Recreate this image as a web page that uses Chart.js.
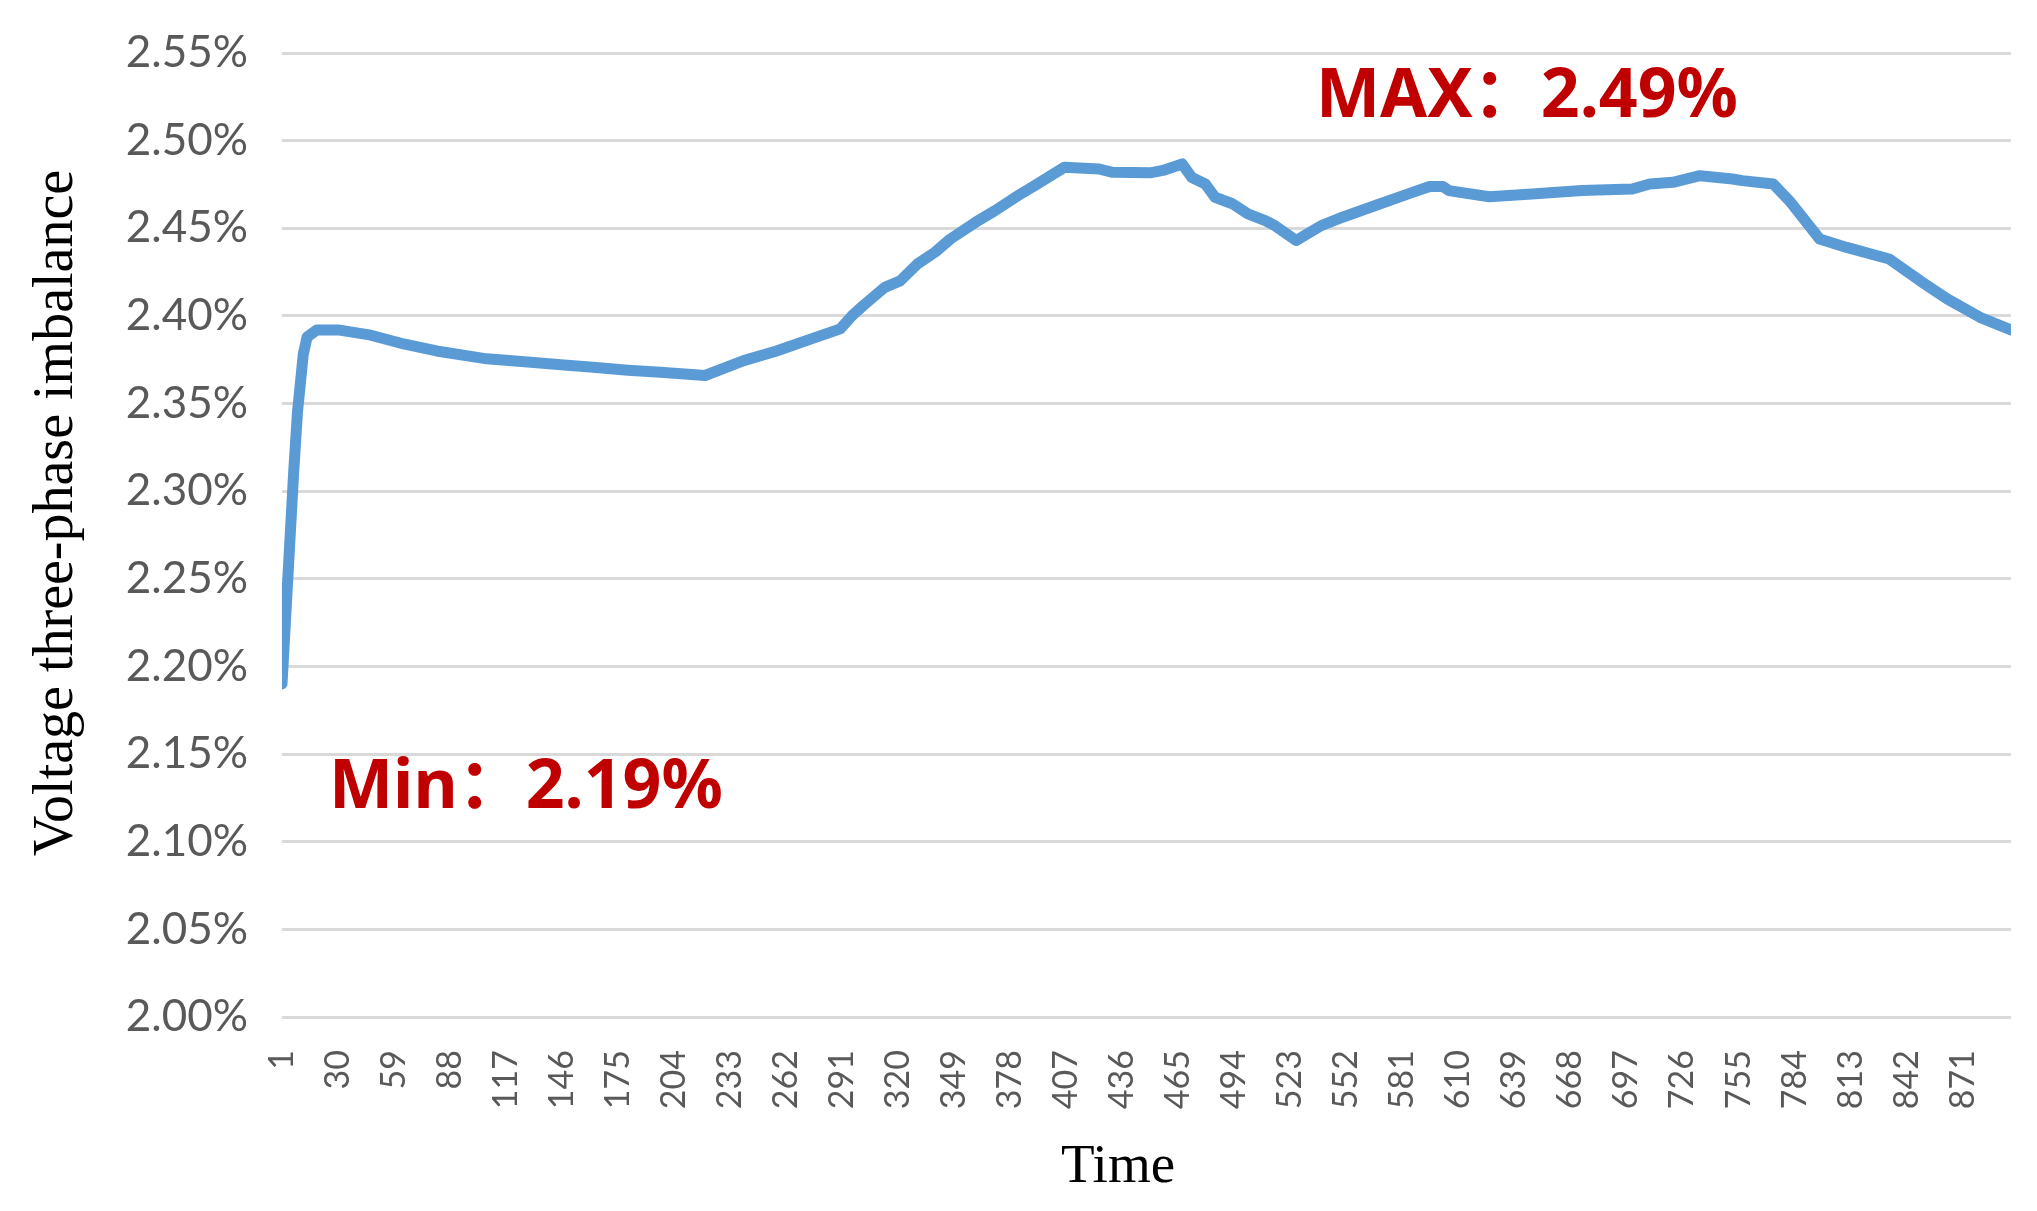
<!DOCTYPE html>
<html>
<head>
<meta charset="utf-8">
<title>Voltage three-phase imbalance</title>
<script src="https://cdn.jsdelivr.net/npm/chart.js@4.4.1/dist/chart.umd.min.js"></script>
<style>
    html, body { margin: 0; padding: 0; background: #ffffff; }
    #wrap { width: 2037px; height: 1211px; }
</style>
</head>
<body>
<div id="wrap"><canvas id="imbalanceChart" width="2037" height="1211"></canvas></div>
<script>
/* ── Data ────────────────────────────────────────────────────── */
const POINT_COUNT = 896;

const X_TICKS = [1, 30, 59, 88, 117, 146, 175, 204, 233, 262, 291, 320, 349, 378, 407,
                 436, 465, 494, 523, 552, 581, 610, 639, 668, 697, 726, 755, 784, 813, 842, 871];

const Y_TICKS = [2.00, 2.05, 2.10, 2.15, 2.20, 2.25, 2.30, 2.35, 2.40, 2.45, 2.50, 2.55];

// sample index (Time) of each read point
const TIME = [1, 4, 7, 9, 12, 14, 19, 30, 47, 64, 81, 107, 125, 147, 162, 180, 197, 220,
              240, 257, 275, 290, 296, 302, 313, 321, 330, 339, 347, 360, 370, 382, 392,
              406, 424, 431, 451, 457, 467, 472, 479, 484, 493, 501, 510, 515, 526, 539,
              550, 567, 584, 595, 602, 605, 626, 648, 674, 700, 709, 721, 735, 752, 757,
              773, 782, 797, 811, 833, 849, 863, 880, 896];

// imbalance in percent
const IMBALANCE = [2.190, 2.250, 2.310, 2.345, 2.378, 2.388, 2.392, 2.392, 2.389, 2.384,
                   2.380, 2.3755, 2.374, 2.372, 2.3707, 2.369, 2.3678, 2.366, 2.3745, 2.380,
                   2.3869, 2.3926, 2.400, 2.406, 2.4163, 2.420, 2.4297, 2.4363, 2.4439, 2.4534,
                   2.460, 2.4686, 2.4753, 2.4848, 2.4838, 2.4819, 2.4817, 2.483, 2.4867, 2.479,
                   2.4753, 2.4677, 2.464, 2.4582, 2.4544, 2.4515, 2.443, 2.4515, 2.4563, 2.463,
                   2.4696, 2.4738, 2.4738, 2.4715, 2.468, 2.4696, 2.4715, 2.4724, 2.4753, 2.4762,
                   2.480, 2.4781, 2.4772, 2.4753, 2.4648, 2.4439, 2.4391, 2.4325, 2.420, 2.4097,
                   2.3992, 2.392];

const MAX_LABEL = 'MAX：2.49%';
const MIN_LABEL = 'Min：2.19%';
const X_TITLE   = 'Time';
const Y_TITLE   = 'Voltage three-phase imbalance';

/* ── Styles ──────────────────────────────────────────────────── */
const LINE_BLUE  = '#5b9bd5';
const GRID_GREY  = '#d9d9d9';
const TICK_GREY  = '#595959';
const NOTE_RED   = '#c00000';
const SERIF      = "'Liberation Serif', 'Times New Roman', serif";

// titles and red notes, drawn on top
const textLayer = {
    id: 'textLayer',
    afterDraw(chart) {
        const ctx = chart.ctx;
        ctx.save();

        ctx.fillStyle = '#000000';
        ctx.font = '55px ' + SERIF;
        ctx.textAlign = 'center';
        ctx.textBaseline = 'alphabetic';
        ctx.fillText(X_TITLE, 1118, 1182);

        ctx.translate(57, 513);
        ctx.rotate(-Math.PI / 2);
        ctx.textBaseline = 'middle';
        ctx.font = '56px ' + SERIF;
        ctx.fillText(Y_TITLE, 0, 0);
        ctx.restore();

        ctx.save();
        ctx.fillStyle = NOTE_RED;
        ctx.font = "bold 68px 'Noto Sans', 'Noto Sans CJK SC', sans-serif";
        ctx.textAlign = 'left';
        ctx.textBaseline = 'alphabetic';
        ctx.fillText(MAX_LABEL, 1316, 117);
        ctx.fillText(MIN_LABEL, 329, 808);
        ctx.restore();
    }
};

new Chart(document.getElementById('imbalanceChart'), {
    type: 'line',
    data: {
        datasets: [{
            label: 'Imbalance',
            data: TIME.map((t, i) => ({ x: t, y: IMBALANCE[i] })),
            borderColor: LINE_BLUE,
            borderWidth: 11,
            borderJoinStyle: 'round',
            borderCapStyle: 'round',
            pointRadius: 0,
            tension: 0,
            fill: false
        }]
    },
    options: {
        responsive: false,
        animation: false,
        devicePixelRatio: 1,
        layout: { padding: { top: 53, right: 21, bottom: 0, left: 0 } },
        plugins: {
            legend: { display: false },
            tooltip: { enabled: false }
        },
        scales: {
            x: {
                type: 'linear',
                min: 1,
                max: POINT_COUNT,
                afterBuildTicks: scale => { scale.ticks = X_TICKS.map(v => ({ value: v })); },
                afterFit: scale => { scale.height = 194; },
                grid: { display: false, drawTicks: false },
                border: { display: false },
                ticks: {
                    autoSkip: false,
                    minRotation: 90,
                    maxRotation: 90,
                    padding: 33,
                    color: TICK_GREY,
                    font: { family: 'Lato, sans-serif', size: 34 },
                    callback: v => String(v)
                }
            },
            y: {
                min: 2.0,
                max: 2.55,
                afterBuildTicks: scale => { scale.ticks = Y_TICKS.map(v => ({ value: v })); },
                afterFit: scale => {
                    scale.width = 282;
                    scale.paddingTop = 0;
                    scale.paddingBottom = 0;
                },
                grid: { color: GRID_GREY, lineWidth: 3, drawTicks: false },
                border: { display: false },
                ticks: {
                    padding: 34,
                    color: TICK_GREY,
                    font: { family: 'Lato, sans-serif', size: 44 },
                    callback: v => Number(v).toFixed(2) + '%'
                }
            }
        }
    },
    plugins: [textLayer]
});
</script>
</body>
</html>
